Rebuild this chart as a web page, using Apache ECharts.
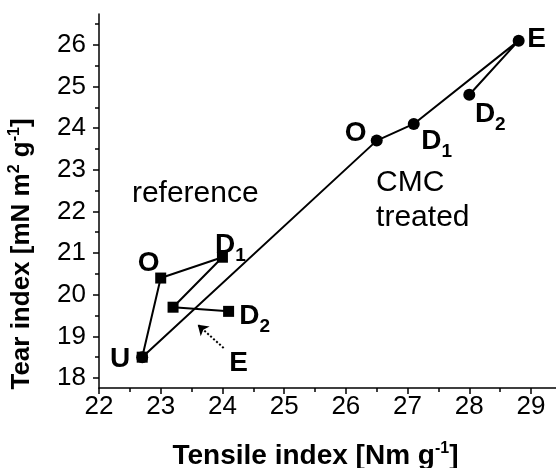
<!DOCTYPE html>
<html>
<head>
<meta charset="utf-8">
<script src="https://cdn.jsdelivr.net/npm/echarts@6/dist/echarts.min.js"></script>
<style>
  html, body { margin: 0; padding: 0; background: #fff; }
  #chart { width: 556px; height: 468px; }
</style>
</head>
<body>
<div id="chart"></div>
<script>
// reference pulp (squares): U -> O -> D1 -> E -> D2
const refX = [22.7, 23.0, 24.0, 23.2, 24.1];
const refY = [18.5, 20.4, 20.9, 19.7, 19.6];
const refNames = ['U', 'O', 'D1', '', 'D2'];
// CMC treated (circles), starting from the same U point
const cmcX = [22.7, 26.5, 27.1, 28.8, 28.0];
const cmcY = [18.5, 23.7, 24.1, 26.1, 24.8];
const cmcNames = ['', 'O', 'D1', 'E', 'D2'];

const xTicks = [22, 23, 24, 25, 26, 27, 28, 29];
const yTicks = [18, 19, 20, 21, 22, 23, 24, 25, 26];
const xMinor = [22.5, 23.5, 24.5, 25.5, 26.5, 27.5, 28.5];
const yMinor = [18.5, 19.5, 20.5, 21.5, 22.5, 23.5, 24.5, 25.5, 26.5];

// free text in the plot
const noteX = [23.56, 26.49, 24.26];
const noteY = [22.42, 22.27, 18.36];
const noteText = ['reference', 'CMC\ntreated', 'E'];
// dotted arrow pointing at the reference E square
const arrowFrom = [24.02, 18.72];
const arrowTo = [23.60, 19.28];

const refOffsets = [[-22, 5], [-12, -12], [8, -9], [0, 0], [26, 8]];
const cmcOffsets = [[0, 0], [-21, -4], [23, 20], [18, 2], [21, 22]];

const font = 'Liberation Sans, Arial, sans-serif';

function tag(name) {
  if (!name) return '';
  if (name.length > 1) return '{d|' + name[0] + '}{s|' + name.slice(1) + '}';
  return '{d|' + name + '}';
}

const pointLabel = {
  show: true,
  position: 'inside',
  color: '#000',
  fontFamily: font,
  rich: {
    d: { fontSize: 28, fontWeight: 'bold', fontFamily: font, color: '#000', lineHeight: 34, verticalAlign: 'top' },
    s: { fontSize: 19, fontWeight: 'bold', fontFamily: font, color: '#000', lineHeight: 34, verticalAlign: 'bottom' }
  }
};

function buildData(xs, ys, names, offsets) {
  return xs.map((x, i) => ({
    value: [x, ys[i]],
    label: { formatter: tag(names[i]), offset: offsets[i] }
  }));
}

const notes = noteX.map((x, i) => {
  let lab = { formatter: noteText[i], color: '#000' };
  if (i === 1) lab = { formatter: noteText[i], color: '#000', align: 'left', lineHeight: 35 };
  if (i === 2) lab = { formatter: noteText[i], color: '#000', fontWeight: 'bold', fontSize: 28 };
  return { value: [x, noteY[i]], label: lab };
});

function axisRich(size) {
  return {
    a: { fontSize: size, fontWeight: 'bold', fontFamily: font, color: '#000', lineHeight: 30 },
    p: { fontSize: 16, fontWeight: 'bold', fontFamily: font, color: '#000', lineHeight: 30, verticalAlign: 'top' }
  };
}

const chart = echarts.init(document.getElementById('chart'));
const option = {
  animation: false,
  backgroundColor: '#fff',
  grid: { left: 99, right: 0, top: 14, bottom: 80, outerBoundsMode: 'none', containLabel: false },
  xAxis: [
    {
      type: 'value', min: 22, max: 29.405,
      name: '{a|Tensile index [Nm g}{p|-1}{a|]}',
      nameLocation: 'middle', nameGap: 53,
      nameTextStyle: { rich: axisRich(28), padding: [0, 24, 0, 0] },
      axisLine: { show: true, lineStyle: { color: '#000', width: 1.5 } },
      axisTick: { show: true, customValues: xTicks, length: 6, lineStyle: { color: '#000', width: 1.5 } },
      axisLabel: { customValues: xTicks, fontSize: 26, color: '#000', fontFamily: font, margin: 6 },
      splitLine: { show: false }
    },
    {
      type: 'value', min: 22, max: 29.405, position: 'bottom',
      axisLine: { show: false },
      axisTick: { show: true, customValues: xMinor, length: 4, lineStyle: { color: '#000', width: 1.5 } },
      axisLabel: { show: false },
      splitLine: { show: false }
    }
  ],
  yAxis: [
    {
      type: 'value', min: 17.76, max: 26.74,
      name: '{a|Tear index [mN m}{p|2}{a| g}{p|-1}{a|]}',
      nameLocation: 'middle', nameGap: 62,
      nameTextStyle: { rich: axisRich(26), padding: [0, 106, 0, 0] },
      axisLine: { show: true, lineStyle: { color: '#000', width: 1.5 } },
      axisTick: { show: true, customValues: yTicks, length: 6, lineStyle: { color: '#000', width: 1.5 } },
      axisLabel: { customValues: yTicks, fontSize: 26, color: '#000', fontFamily: font, margin: 13 },
      splitLine: { show: false }
    },
    {
      type: 'value', min: 17.76, max: 26.74, position: 'left',
      axisLine: { show: false },
      axisTick: { show: true, customValues: yMinor, length: 4, lineStyle: { color: '#000', width: 1.5 } },
      axisLabel: { show: false },
      splitLine: { show: false }
    }
  ],
  series: [
    {
      name: 'reference', type: 'line',
      symbol: 'rect', symbolSize: 11,
      itemStyle: { color: '#000' },
      lineStyle: { color: '#000', width: 2 },
      label: pointLabel,
      data: buildData(refX, refY, refNames, refOffsets),
      z: 3
    },
    {
      name: 'CMC treated', type: 'line',
      symbol: 'circle', symbolSize: 12,
      itemStyle: { color: '#000' },
      lineStyle: { color: '#000', width: 2 },
      label: pointLabel,
      data: buildData(cmcX, cmcY, cmcNames, cmcOffsets),
      z: 4
    },
    {
      name: 'notes', type: 'scatter',
      symbolSize: 0,
      itemStyle: { opacity: 1, color: '#000' },
      label: { show: true, position: 'inside', color: '#000', fontSize: 30, fontFamily: font },
      data: notes,
      markLine: {
        silent: true,
        symbol: ['none', 'arrow'],
        symbolSize: 10,
        label: { show: false },
        lineStyle: { color: '#000', width: 2, type: 'dotted', opacity: 1 },
        data: [[{ coord: arrowFrom }, { coord: arrowTo }]]
      }
    }
  ]
};
chart.setOption(option);
</script>
</body>
</html>
